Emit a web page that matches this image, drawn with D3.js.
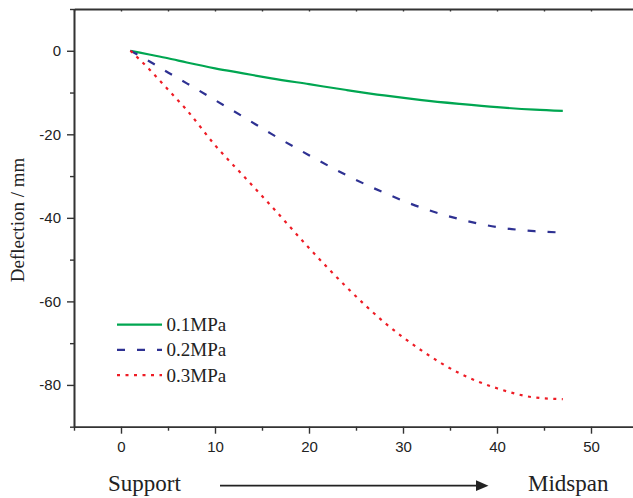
<!DOCTYPE html>
<html>
<head>
<meta charset="utf-8">
<script src="https://cdn.jsdelivr.net/npm/d3@7"></script>
<style>
  html, body { margin: 0; padding: 0; background: #fff; }
  svg { display: block; }
</style>
</head>
<body>
<svg id="chart" width="633" height="498"></svg>
<script>
// ---- data ----
const positions = [1, 3, 5, 7, 10, 13, 16, 20, 24, 28, 32, 36, 40, 44, 47];
const series01 = [0, -0.9, -1.8, -2.8, -4.2, -5.4, -6.6, -8.0, -9.4, -10.7, -11.8, -12.7, -13.5, -14.1, -14.4];
const series02 = [0, -2.5, -5.2, -7.8, -11.8, -15.8, -19.9, -25.0, -29.8, -34.0, -37.6, -40.3, -42.2, -43.2, -43.5];
const series03 = [0, -4.4, -9.3, -14.2, -22.6, -29.9, -37.2, -47.2, -56.6, -65.0, -71.8, -77.2, -80.8, -83.0, -83.4];
const seriesNames = ["0.1MPa", "0.2MPa", "0.3MPa"];
const xMajorTicks = [0, 10, 20, 30, 40, 50];
const xMinorTicks = [-5, 5, 15, 25, 35, 45, 55];
const yMajorTicks = [0, -20, -40, -60, -80];
const yMinorTicks = [10, -10, -30, -50, -70, -90];
const yTitle = "Deflection / mm";
const startLabel = "Support";
const endLabel = "Midspan";

const styles = [
  { color: "#00a651", dash: null },
  { color: "#2e3192", dash: "8,12" },
  { color: "#ee1c25", dash: "3,5.5" }
];

const svg = d3.select("#chart");
const axisColor = "#333";
const plainFmt = d => String(d);   // hyphen-minus, as in the reference

const x = d3.scaleLinear().domain([-5, 55]).range([74, 638]);
const y = d3.scaleLinear().domain([-90, 10]).range([426.7, 9]);

// ---- axes ----
function styleAxis(g) {
  g.select(".domain").attr("stroke", axisColor).attr("stroke-width", 1.6);
  g.selectAll(".tick line").attr("stroke", axisColor).attr("stroke-width", 1.4);
  g.selectAll(".tick text").attr("fill", "#222")
    .style("font-family", "'Liberation Sans', Arial, sans-serif").style("font-size", "15px");
}

// bottom
const bottomMajor = svg.append("g").attr("transform", "translate(0,426.7)")
  .call(d3.axisBottom(x).tickValues(xMajorTicks).tickSize(7).tickPadding(8).tickFormat(plainFmt).tickSizeOuter(0));
styleAxis(bottomMajor);
const bottomMinor = svg.append("g").attr("transform", "translate(0,426.7)")
  .call(d3.axisBottom(x).tickValues(xMinorTicks).tickSize(4).tickFormat("").tickSizeOuter(0));
styleAxis(bottomMinor);

// top (inward ticks)
const topAx = svg.append("g").attr("transform", "translate(0,9)")
  .call(d3.axisBottom(x).tickValues(xMajorTicks.concat(xMinorTicks)).tickSize(2.5).tickFormat("").tickSizeOuter(0));
styleAxis(topAx);
topAx.select(".domain").attr("stroke-width", 2);

// left
const leftMajor = svg.append("g").attr("transform", "translate(74,0)")
  .call(d3.axisLeft(y).tickValues(yMajorTicks).tickSize(7).tickPadding(6).tickFormat(plainFmt).tickSizeOuter(0));
styleAxis(leftMajor);
const leftMinor = svg.append("g").attr("transform", "translate(74,0)")
  .call(d3.axisLeft(y).tickValues(yMinorTicks).tickSize(4).tickFormat("").tickSizeOuter(0));
styleAxis(leftMinor);

// y title
svg.append("text")
  .attr("transform", "translate(24,220) rotate(-90)")
  .attr("text-anchor", "middle")
  .style("font-family", "'Liberation Serif', 'Times New Roman', serif")
  .style("font-size", "19px")
  .attr("fill", "#222")
  .text(yTitle);

// ---- lines ----
const allSeries = [series01, series02, series03];
const line = d3.line()
  .x(d => x(d[0]))
  .y(d => y(d[1]))
  .curve(d3.curveMonotoneX);

allSeries.forEach((vals, i) => {
  const pts = positions.map((p, j) => [p, vals[j]]);
  svg.append("path")
    .datum(pts)
    .attr("d", line)
    .attr("fill", "none")
    .attr("stroke", styles[i].color)
    .attr("stroke-width", 2.2)
    .attr("stroke-dasharray", styles[i].dash);
});

// ---- legend ----
const legend = svg.append("g");
seriesNames.forEach((name, i) => {
  const ly = 324.7 + i * 25.2;
  legend.append("line")
    .attr("x1", 117).attr("x2", 162).attr("y1", ly).attr("y2", ly)
    .attr("stroke", styles[i].color)
    .attr("stroke-width", 2.2)
    .attr("stroke-dasharray", styles[i].dash);
  legend.append("text")
    .attr("x", 166.5).attr("y", ly + 6.5)
    .style("font-family", "'Liberation Serif', 'Times New Roman', serif")
    .style("font-size", "19px")
    .attr("fill", "#222")
    .text(name);
});

// ---- bottom annotation ----
svg.append("text")
  .attr("x", 108).attr("y", 491)
  .style("font-family", "'Liberation Serif', 'Times New Roman', serif")
  .style("font-size", "23px")
  .attr("fill", "#222")
  .text(startLabel);
svg.append("text")
  .attr("x", 528).attr("y", 491)
  .style("font-family", "'Liberation Serif', 'Times New Roman', serif")
  .style("font-size", "23px")
  .attr("fill", "#222")
  .text(endLabel);

svg.append("line")
  .attr("x1", 220).attr("x2", 478).attr("y1", 485.7).attr("y2", 485.7)
  .attr("stroke", "#222").attr("stroke-width", 1.8);
svg.append("path")
  .attr("d", "M476,480.3 L488.5,485.7 L476,491.1 Z")
  .attr("fill", "#222");
</script>
</body>
</html>
